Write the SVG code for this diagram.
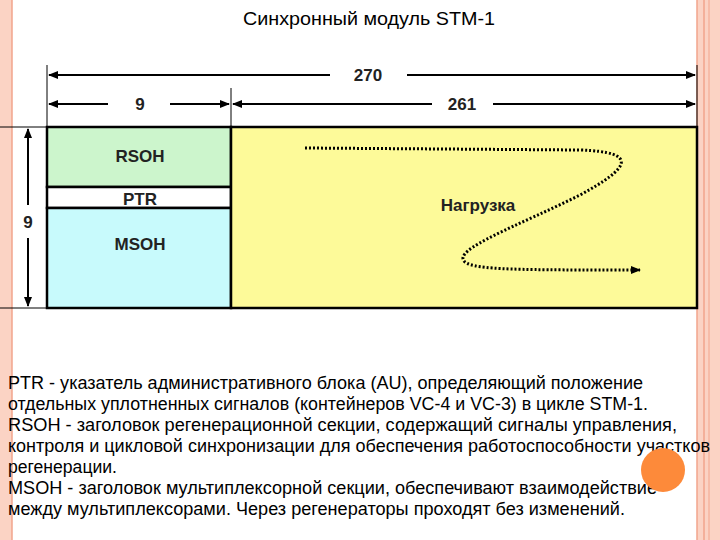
<svg xmlns="http://www.w3.org/2000/svg" width="720" height="540" viewBox="0 0 720 540">
<defs>
<marker id="ah" markerWidth="10" markerHeight="8" refX="9" refY="4" orient="auto-start-reverse" markerUnits="userSpaceOnUse"><path d="M0,0 L10,4 L0,8 Z" fill="#000"/></marker>
<style>
.b{font-family:"Liberation Sans",Arial,sans-serif;font-weight:bold;font-size:17px;text-anchor:middle;fill:#222}
.t{font-family:"Liberation Sans",Arial,sans-serif;font-size:17.5px;fill:#000}
.d{stroke:#000;stroke-width:2;fill:none}
</style>
</defs>
<rect width="720" height="540" fill="#fff"/>
<g id="border">
<rect x="0" y="0" width="12" height="540" fill="#fbd3c4"/>
<line x1="12" y1="0" x2="12" y2="540" stroke="#f2a58c" stroke-width="1.5"/>
<rect x="697" y="0" width="23" height="540" fill="#fbd3c4"/>
<line x1="697" y1="0" x2="697" y2="540" stroke="#f2a58c" stroke-width="1.5"/>
<line x1="704" y1="0" x2="704" y2="540" stroke="#f2a58c" stroke-width="1.5"/>
<line x1="709" y1="0" x2="709" y2="540" stroke="#f2a58c" stroke-width="1"/>
</g>
<text x="243" y="25" class="t" textLength="252" lengthAdjust="spacingAndGlyphs">Синхронный модуль STM-1</text>
<g id="RSOH"><rect x="47" y="127" width="184" height="60" fill="#ccf5cc" stroke="#000" stroke-width="2.5"/><text x="140" y="162" class="b">RSOH</text></g>
<g id="PTR"><rect x="47" y="187" width="184" height="21" fill="#fff" stroke="#000" stroke-width="2.5"/><text x="140" y="205" class="b">PTR</text></g>
<g id="MSOH"><rect x="47" y="208" width="184" height="100" fill="#c8fafc" stroke="#000" stroke-width="2.5"/><text x="140" y="250" class="b">MSOH</text></g>
<g id="payload"><rect x="231" y="127" width="466" height="181" fill="#fdfa99" stroke="#000" stroke-width="2.5"/><text x="478" y="211" class="b">Нагрузка</text></g>
<g id="connectors">
<line x1="47" y1="65" x2="47" y2="127" stroke="#000"/>
<line x1="231" y1="88" x2="231" y2="127" stroke="#000"/>
<line x1="697" y1="65" x2="697" y2="127" stroke="#000"/>
<line x1="0" y1="127" x2="47" y2="127" stroke="#000"/>
<line x1="0" y1="308" x2="47" y2="308" stroke="#000"/>
<line x1="49" y1="75" x2="330" y2="75" class="d" marker-start="url(#ah)"/>
<line x1="407" y1="75" x2="695" y2="75" class="d" marker-end="url(#ah)"/>
<line x1="49" y1="104" x2="108" y2="104" class="d" marker-start="url(#ah)"/>
<line x1="170" y1="104" x2="229" y2="104" class="d" marker-end="url(#ah)"/>
<line x1="233" y1="104" x2="432" y2="104" class="d" marker-start="url(#ah)"/>
<line x1="493" y1="104" x2="695" y2="104" class="d" marker-end="url(#ah)"/>
<line x1="28" y1="129" x2="28" y2="205" class="d" marker-start="url(#ah)"/>
<line x1="28" y1="238" x2="28" y2="306" class="d" marker-end="url(#ah)"/>
<path d="M305,148 L580,150 C640,152 630,168 580,195 C520,225 450,250 465,262 C475,270 520,270 640,270" fill="none" stroke="#000" stroke-width="3" stroke-dasharray="2,2" marker-end="url(#ah)"/>
</g>
<text x="28" y="228" class="b">9</text>
<text x="140" y="110" class="b">9</text>
<text x="368" y="81" class="b">270</text>
<text x="462" y="110" class="b">261</text>
<g class="t">
<text x="8" y="389" textLength="635" lengthAdjust="spacingAndGlyphs">PTR - указатель административного блока (AU), определяющий положение</text>
<text x="8" y="410" textLength="640" lengthAdjust="spacingAndGlyphs">отдельных уплотненных сигналов (контейнеров VC-4 и VC-3) в цикле STM-1.</text>
<text x="8" y="431" textLength="669" lengthAdjust="spacingAndGlyphs">RSOH - заголовок регенерационной секции, содержащий сигналы управления,</text>
<text x="8" y="452" textLength="702" lengthAdjust="spacingAndGlyphs">контроля и цикловой синхронизации для обеспечения работоспособности участков</text>
<text x="8" y="473" textLength="109" lengthAdjust="spacingAndGlyphs">регенерации.</text>
<text x="8" y="494" textLength="649" lengthAdjust="spacingAndGlyphs">MSOH - заголовок мультиплексорной секции, обеспечивают взаимодействие</text>
<text x="8" y="515" textLength="617" lengthAdjust="spacingAndGlyphs">между мультиплексорами. Через регенераторы проходят без изменений.</text>
</g>
<circle cx="663" cy="470" r="22" fill="#fd8a3a"/>
</svg>
